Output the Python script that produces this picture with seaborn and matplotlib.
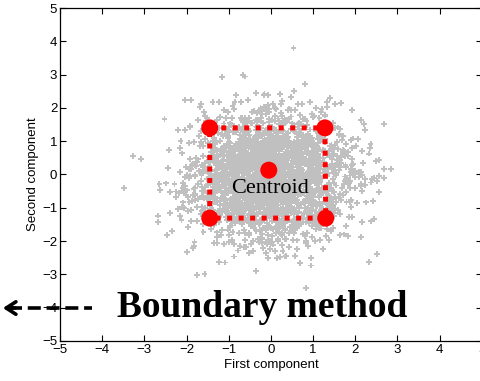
import numpy as np
import pandas as pd
import matplotlib
matplotlib.use("Agg")
import matplotlib.pyplot as plt
import seaborn as sns

# cloud of projected samples (shape: centre, spread, count)
cloud_mean = [0.0, -0.05]
cloud_std = [0.95, 0.95]
cloud_n = 2500

# boundary corners and centroid
corner_x = [-1.45, 1.28, 1.30, -1.45]
corner_y = [1.40, 1.40, -1.31, -1.31]
centroid_x = [-0.05]
centroid_y = [0.13]

ticks = [-5, -4, -3, -2, -1, 0, 1, 2, 3, 4, 5]

rng = np.random.default_rng(7)
cloud = pd.DataFrame({
    "x": rng.normal(cloud_mean[0], cloud_std[0], cloud_n),
    "y": rng.normal(cloud_mean[1], cloud_std[1], cloud_n),
})

sns.set_style("ticks")
plt.rcParams["font.family"] = ["Liberation Sans", "DejaVu Sans"]
plt.rcParams["text.color"] = "black"
plt.rcParams["axes.labelcolor"] = "black"

fig = plt.figure(figsize=(4.81, 3.81), dpi=100)
ax = fig.add_axes([0.1247, 0.105, 0.877, 0.874])

sns.scatterplot(data=cloud, x="x", y="y", marker="P", s=18, color="#c0c0c0",
                edgecolor="none", linewidth=0, ax=ax, zorder=1)

# dotted boundary box
bx = corner_x + corner_x[:1]
by = corner_y + corner_y[:1]
ax.plot(bx, by, color="red", lw=3.6, linestyle=(0, (1, 1.3)),
        dash_capstyle="butt", zorder=2)
sns.scatterplot(x=corner_x, y=corner_y, color="red", s=150, edgecolor="none",
                ax=ax, zorder=3)
sns.scatterplot(x=centroid_x, y=centroid_y, color="red", s=150, edgecolor="none",
                ax=ax, zorder=3)

ax.text(-0.03, -0.42, "Centroid", family="Liberation Serif", fontsize=16,
        ha="center", va="center", color="black", zorder=4)
ax.text(-0.2, -4.0, "Boundary method", family="Liberation Serif",
        fontweight="bold", fontsize=27, ha="center", va="center",
        color="black", zorder=4)

# dashed arrow pointing off to the left
ax.plot([-6.2, -4.24], [-4.01, -4.01], color="black", lw=2.6,
        linestyle=(0, (3.6, 1.6)), clip_on=False, zorder=4)
ax.annotate("", xy=(-6.42, -4.01), xytext=(-6.0, -4.01),
            arrowprops=dict(arrowstyle="->, head_length=0.7, head_width=0.45",
                            lw=2.6, color="black"),
            annotation_clip=False, zorder=4)

ax.set_xlim(-5, 5)
ax.set_ylim(-5, 5)
ax.set_xticks(ticks)
ax.set_yticks(ticks)
ax.tick_params(direction="in", length=4, width=0.8, labelsize=9.5,
               top=True, right=True, pad=2, colors="black")
for s in ax.spines.values():
    s.set_visible(True)
    s.set_linewidth(0.9)
    s.set_color("black")
ax.set_xlabel("First component", fontsize=9.5, labelpad=2)
ax.set_ylabel("Second component", fontsize=9.5, labelpad=2)

fig.savefig("out.png", dpi=100)
